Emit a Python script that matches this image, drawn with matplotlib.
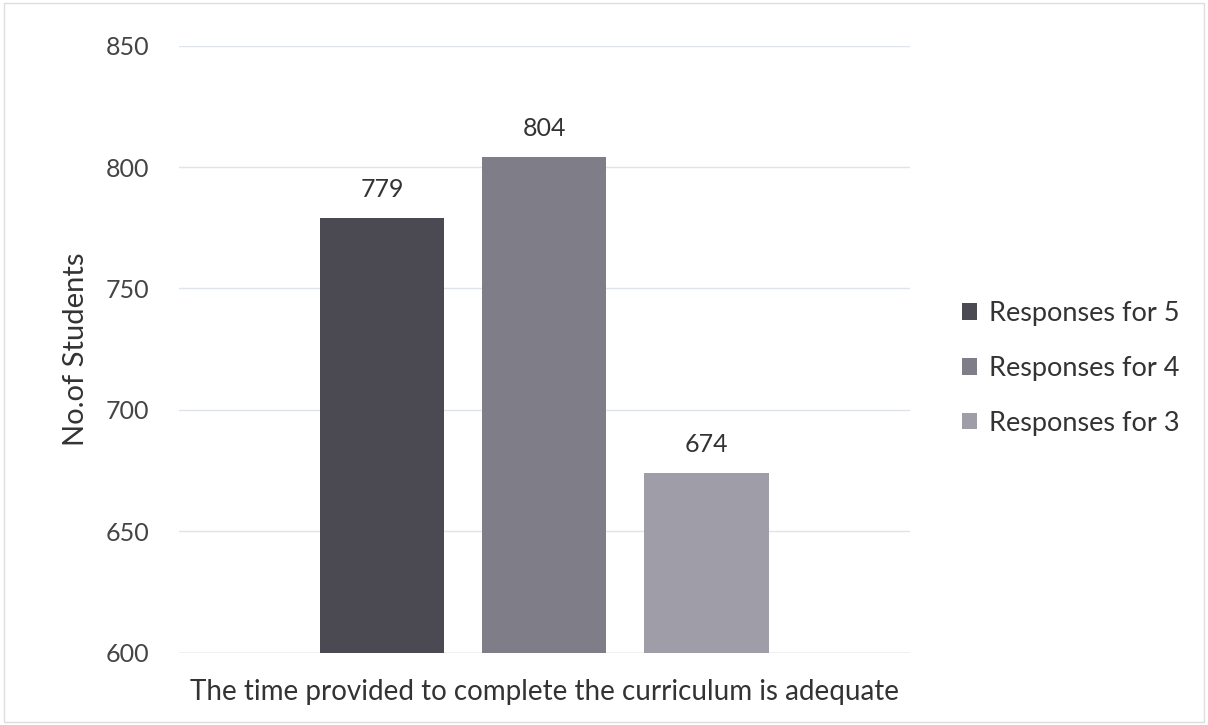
import matplotlib
matplotlib.use("Agg")
import matplotlib.pyplot as plt
from matplotlib.patches import Rectangle

category = "The time provided to complete the curriculum is adequate"
series = ["Responses for 5", "Responses for 4", "Responses for 3"]
values = [779, 804, 674]
colors = ["#4b4a53", "#7e7d88", "#9f9ea8"]
yticks = [600, 650, 700, 750, 800, 850]

plt.rcParams['font.family'] = ['Lato', 'DejaVu Sans']

fig = plt.figure(figsize=(12.08, 7.25), dpi=100)
fig.patch.set_facecolor("white")
ax = fig.add_axes([0.148, 0.100, 0.605, 0.837])

width = 0.34
step = 0.444
for i, (s, v, c) in enumerate(zip(series, values, colors)):
    x = (i - 1) * step
    ax.bar(x, v - 600, bottom=600, width=width, color=c, label=s, zorder=3)
    ax.text(x, v + 7, str(v), ha="center", va="bottom", fontsize=18, color="#333333")

ax.set_xlim(-1, 1)
ax.set_ylim(600, 850)
ax.set_yticks(yticks)
ax.set_yticklabels([str(t) for t in yticks], fontsize=18, color="#444444")
ax.tick_params(axis="y", length=0, pad=21)
ax.set_xticks([0])
ax.set_xticklabels([category], fontsize=20, color="#333333")
ax.tick_params(axis="x", length=0, pad=19)
ax.grid(axis="y", color="#dfe3ea", linewidth=1, zorder=0)
for sp in ax.spines.values():
    sp.set_visible(False)
ax.axhline(600, color="#d0d0d0", linewidth=1, zorder=2)
ax.set_ylabel("No.of Students", fontsize=21, color="#333333", labelpad=12)

leg = ax.legend(loc="center left", bbox_to_anchor=(1.057, 0.468), frameon=False,
                fontsize=19.5, handlelength=0.55, handleheight=0.55, handletextpad=0.45,
                labelspacing=1.1, borderaxespad=0)
for t in leg.get_texts():
    t.set_color("#333333")

fig.add_artist(Rectangle((0.003, 0.004), 0.994, 0.992, transform=fig.transFigure,
                         fill=False, edgecolor="#dddddd", linewidth=1))

fig.savefig("out.png", dpi=100)
